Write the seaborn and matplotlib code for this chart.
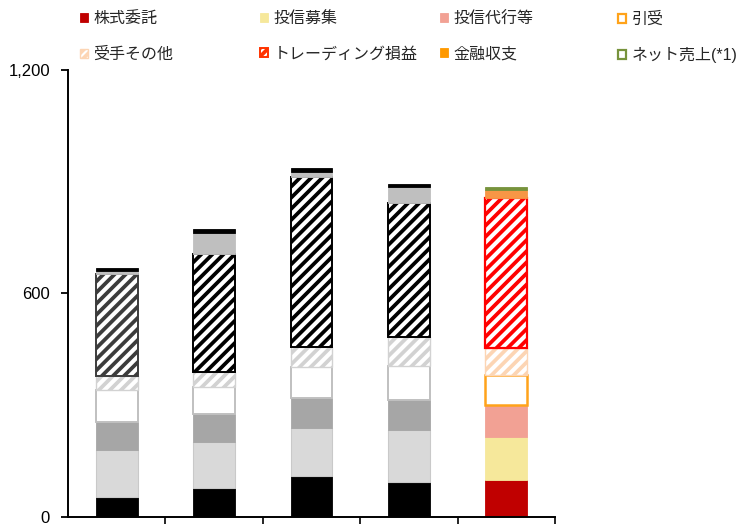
import numpy as np
import matplotlib
matplotlib.use("Agg")
import matplotlib.pyplot as plt
import seaborn as sns
from matplotlib.patches import Patch
from matplotlib.ticker import FuncFormatter

# ---- data (revenue breakdown per period) ----
periods = ["P1", "P2", "P3", "P4", "P5"]
series_names = ["株式委託", "投信募集", "投信代行等", "引受",
                "受手その他", "トレーディング損益", "金融収支", "ネット売上(*1)"]
kabushiki_itaku = [54, 76, 109, 94, 98]
toushin_boshu = [125, 124, 128, 139, 116]
toushin_dairi = [76, 76, 81, 80, 85]
hikiuke = [85, 72, 83, 93, 83]
ukete_sonota = [38, 40, 56, 77, 72]
trading = [273, 317, 456, 359, 403]
kinyu_shushi = [10, 58, 13, 43, 20]
net_uriage = [8, 9, 12, 10, 9]
y_ticks = [0, 600, 1200]

series_values = [kabushiki_itaku, toushin_boshu, toushin_dairi, hikiuke,
                 ukete_sonota, trading, kinyu_shushi, net_uriage]

# styles: (face, edge, hatch, linewidth) for earlier periods (grey) and latest (colour)
grey_styles = [
    ("#000000", "#000000", None, 0.6),
    ("#d9d9d9", "#c9c9c9", None, 0.8),
    ("#a6a6a6", "#a6a6a6", None, 0.6),
    ("#ffffff", "#c0c0c0", None, 1.4),
    ("#ffffff", "#d2d2d2", "///", 1.0),
    ("#ffffff", "#000000", "///", 1.4),
    ("#bfbfbf", "#bfbfbf", None, 0.6),
    ("#000000", "#000000", None, 0.6),
]
colour_styles = [
    ("#c00000", "#c00000", None, 0.6),
    ("#f6e89b", "#f6e89b", None, 0.6),
    ("#f2a194", "#f2a194", None, 0.6),
    ("#ffffff", "#ffa31a", None, 1.8),
    ("#ffffff", "#fcd5b4", "///", 1.0),
    ("#ffffff", "#ff0000", "///", 1.6),
    ("#f79646", "#f79646", None, 0.6),
    ("#77933c", "#77933c", None, 0.6),
]
legend_styles = [
    ("#c00000", "#c00000", None, 0.6),
    ("#f6e89b", "#f6e89b", None, 0.6),
    ("#f2a194", "#f2a194", None, 0.6),
    ("#ffffff", "#ffa31a", None, 1.6),
    ("#ffffff", "#fcd5b4", "////", 1.0),
    ("#ffffff", "#ff3300", "////", 1.4),
    ("#ff9900", "#ff9900", None, 0.6),
    ("#ffffff", "#77933c", None, 1.6),
]

sns.set_style("ticks")
plt.rcParams["font.family"] = ["Liberation Sans", "Noto Sans CJK JP", "DejaVu Sans"]
plt.rcParams["hatch.linewidth"] = 2.7

W, H = 740, 525
fig = plt.figure(figsize=(W / 100, H / 100), dpi=100)
ax = fig.add_axes([68 / W, 8.3 / H, 487 / W, 446.7 / H])

bottom = np.zeros(len(periods))
for i, vals in enumerate(series_values):
    sns.barplot(x=periods, y=vals, bottom=bottom.copy(), width=0.43,
                color="#888888", saturation=1, errorbar=None, ax=ax)
    bars = ax.containers[-1]
    for j, p in enumerate(bars.patches):
        face, edge, hatch, lw = colour_styles[i] if j == len(periods) - 1 else grey_styles[i]
        if i == 5 and j == 0:
            edge = "#3c3c3c"
        p.set_facecolor(face)
        p.set_edgecolor(edge)
        p.set_linewidth(lw)
        p.set_hatch(hatch)
    bottom += np.asarray(vals, dtype=float)

ax.set_xlim(-0.5, len(periods) - 0.5)
ax.set_ylim(0, 1200)
ax.set_xticks([])
ax.set_xticks(np.arange(len(periods)) + 0.5, minor=True)
ax.set_yticks(y_ticks)
ax.yaxis.set_major_formatter(FuncFormatter(lambda v, _: f"{v:,.0f}"))
ax.set_xlabel("")
ax.set_ylabel("")
ax.tick_params(axis="y", which="major", direction="out", length=5, width=1.3,
               pad=8, labelsize=12, colors="black")
ax.tick_params(axis="x", which="minor", direction="out", length=5, width=1.2,
               colors="black")
for side in ("top", "right"):
    ax.spines[side].set_visible(False)
for side in ("left", "bottom"):
    ax.spines[side].set_linewidth(1.4)
    ax.spines[side].set_color("black")

# legend: four columns of two entries each
col_x = [80, 260, 440, 618]
for c in range(4):
    idx = [c, c + 4]
    handles = []
    for k in idx:
        face, edge, hatch, lw = legend_styles[k]
        handles.append(Patch(facecolor=face, edgecolor=edge, hatch=hatch, linewidth=lw))
    fig.legend(handles=handles, labels=[series_names[k] for k in idx],
               loc="upper left", bbox_to_anchor=(col_x[c] / W, 1 - 11.5 / H),
               frameon=False, borderpad=0, borderaxespad=0,
               handlelength=0.5, handleheight=0.5, handletextpad=0.35,
               labelspacing=1.25, fontsize=11.5)

fig.savefig("out.png", dpi=100)
